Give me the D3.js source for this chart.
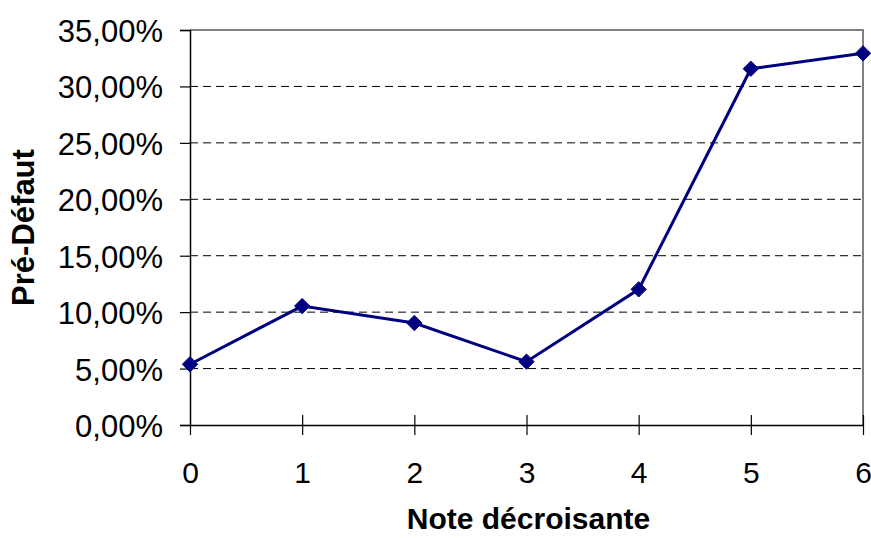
<!DOCTYPE html>
<html>
<head>
<meta charset="utf-8">
<script src="https://cdn.jsdelivr.net/npm/d3@7/dist/d3.min.js"></script>
<style>
  html, body { margin: 0; padding: 0; background: #fff; }
  svg { display: block; font-family: "Liberation Sans", Arial, sans-serif; }
</style>
</head>
<body>
<svg id="chart" width="871" height="538"></svg>
<script>
// Pre-default rate by rating grade (decreasing rating)
const notes = [0, 1, 2, 3, 4, 5, 6];
const preDefaut = [0.0538, 0.1054, 0.0904, 0.0561, 0.1202, 0.3157, 0.3293];
const yTicks = [0, 0.05, 0.10, 0.15, 0.20, 0.25, 0.30, 0.35];

const svg = d3.select("#chart");
const margin = { left: 190, right: 8, top: 30, bottom: 113 };
const W = 871, H = 538;
const FONT = "'Liberation Sans', Arial, sans-serif";

const x = d3.scaleLinear().domain([0, 6]).range([margin.left, W - margin.right]);
const y = d3.scaleLinear().domain([0, 0.35]).range([H - margin.bottom, margin.top]);

const fmt = v => d3.format(".2f")(v * 100).replace(".", ",") + "%";

// dashed horizontal gridlines
svg.append("g")
  .selectAll("line")
  .data(yTicks.filter(d => d > 0 && d < 0.35))
  .join("line")
  .attr("x1", x(0)).attr("x2", x(6))
  .attr("y1", d => y(d)).attr("y2", d => y(d))
  .attr("stroke", "#000").attr("stroke-width", 1)
  .attr("stroke-dasharray", "8,5");

// plot area border (top and right)
svg.append("path")
  .attr("d", `M${x(0)},${y(0.35)}H${x(6)}V${y(0)}`)
  .attr("fill", "none").attr("stroke", "#808080").attr("stroke-width", 2);

// y axis
const yAxis = d3.axisLeft(y).tickValues(yTicks).tickFormat(fmt).tickSizeOuter(0).tickSize(10).tickPadding(17);
const gy = svg.append("g").attr("transform", `translate(${x(0)},0)`).call(yAxis);
gy.select(".domain").attr("stroke", "#000").attr("stroke-width", 1.5);
gy.selectAll(".tick line").attr("stroke", "#000").attr("stroke-width", 1.2);
gy.selectAll("text").attr("font-size", 31).attr("fill", "#000").attr("dy", "0.37em")
  .attr("font-family", FONT);

// x axis
const xAxis = d3.axisBottom(x).tickValues(notes).tickFormat(d3.format("d")).tickSizeInner(10).tickSizeOuter(0).tickPadding(27);
const gx = svg.append("g").attr("transform", `translate(0,${y(0)})`).call(xAxis);
gx.select(".domain").attr("stroke", "#000").attr("stroke-width", 1.5);
gx.selectAll(".tick line").attr("stroke", "#000").attr("stroke-width", 1.2).attr("y1", d => d === 0 ? 0 : -10);
gx.selectAll("text").attr("font-size", 30).attr("fill", "#000")
  .attr("font-family", FONT);

// series line
const line = d3.line().x((d, i) => x(notes[i])).y(d => y(d));
svg.append("path").datum(preDefaut)
  .attr("d", line).attr("fill", "none")
  .attr("stroke", "#000080").attr("stroke-width", 3);

// diamond markers
const diamond = d3.symbol().type(d3.symbolDiamond2).size(150);
svg.append("g").selectAll("path")
  .data(preDefaut)
  .join("path")
  .attr("d", diamond)
  .attr("transform", (d, i) => `translate(${x(notes[i])},${y(d)})`)
  .attr("fill", "#000080").attr("stroke", "#000080").attr("stroke-width", 1);

// axis titles
svg.append("text")
  .attr("x", (x(0) + x(6)) / 2 + 2).attr("y", 529)
  .attr("text-anchor", "middle").attr("font-size", 30).attr("font-weight", "bold")
  .attr("font-family", FONT)
  .text("Note décroisante");

svg.append("text")
  .attr("transform", `translate(34,${(y(0) + y(0.35)) / 2}) rotate(-90)`)
  .attr("text-anchor", "middle").attr("font-size", 31).attr("font-weight", "bold")
  .attr("font-family", FONT)
  .text("Pré-Défaut");
</script>
</body>
</html>
